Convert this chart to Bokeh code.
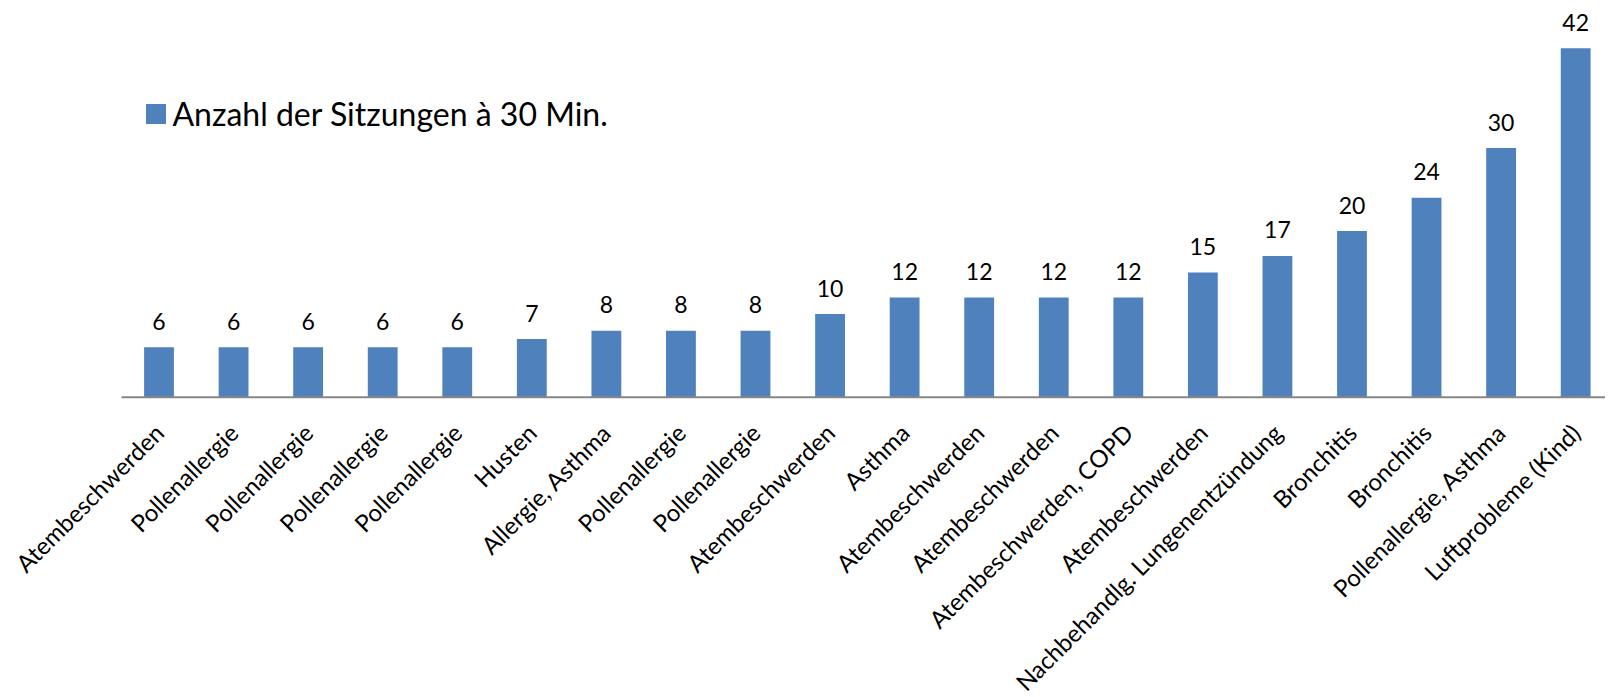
from bokeh.plotting import figure
from bokeh.models import ColumnDataSource, Legend, LegendItem
from bokeh.core.properties import value
from bokeh.embed import file_html
from bokeh.resources import INLINE
import math

categories = ["Atembeschwerden", "Pollenallergie", "Pollenallergie", "Pollenallergie",
              "Pollenallergie", "Husten", "Allergie, Asthma", "Pollenallergie",
              "Pollenallergie", "Atembeschwerden", "Asthma", "Atembeschwerden",
              "Atembeschwerden", "Atembeschwerden, COPD", "Atembeschwerden",
              "Nachbehandlg. Lungenentzündung", "Bronchitis", "Bronchitis",
              "Pollenallergie, Asthma", "Luftprobleme (Kind)"]
sessions = [6, 6, 6, 6, 6, 7, 8, 8, 8, 10, 12, 12, 12, 12, 15, 17, 20, 24, 30, 42]
series_name = "Anzahl der Sitzungen à 30 Min."

n = len(sessions)
xs = list(range(n))
src = ColumnDataSource(dict(x=xs, top=sessions, label=[str(v) for v in sessions],
                            cat=categories, base=[0] * n))

FONT = "Lato"
# the frame covers the whole canvas so the rotated category texts are not clipped;
# y=0 is where the category axis line sits
X_START, X_END = -2.126, n - 1 + 0.40
p = figure(width=1605, height=697, output_backend="svg", toolbar_location=None,
           x_range=(X_START, X_END), y_range=(-36.17, 46.8),
           min_border_left=0, min_border_top=8, min_border_right=0,
           min_border_bottom=0)
p.outline_line_color = None
p.grid.visible = False
p.xaxis.visible = False
p.yaxis.visible = False

bars = p.vbar(x="x", top="top", bottom=0, width=0.40, source=src,
              fill_color="#4F81BD", line_color=None)
p.text(x="x", y="top", text="label", source=src, text_align="center",
       text_baseline="alphabetic", y_offset=-26, text_font=value(FONT),
       text_font_size="23px", text_color="#000000")

# category axis line (starts half a slot left of the first bar)
p.segment(x0=[-0.503], y0=[0], x1=[X_END], y1=[0], line_color="#868686",
          line_width=2)

p.text(x="x", y="base", text="cat", source=src, angle=math.pi / 4,
       text_align="right", text_baseline="middle", y_offset=31,
       text_font=value(FONT), text_font_size="24px", text_color="#000000")

legend = Legend(items=[LegendItem(label=series_name, renderers=[bars])],
                location=(142.5, 564), padding=0, margin=0, glyph_width=25,
                glyph_height=25, label_standoff=5, background_fill_alpha=0,
                border_line_color=None, label_text_font=FONT,
                label_text_font_size="32px", label_text_color="#000000")
p.add_layout(legend, "center")

open("out.html", "w").write(file_html(p, INLINE))
